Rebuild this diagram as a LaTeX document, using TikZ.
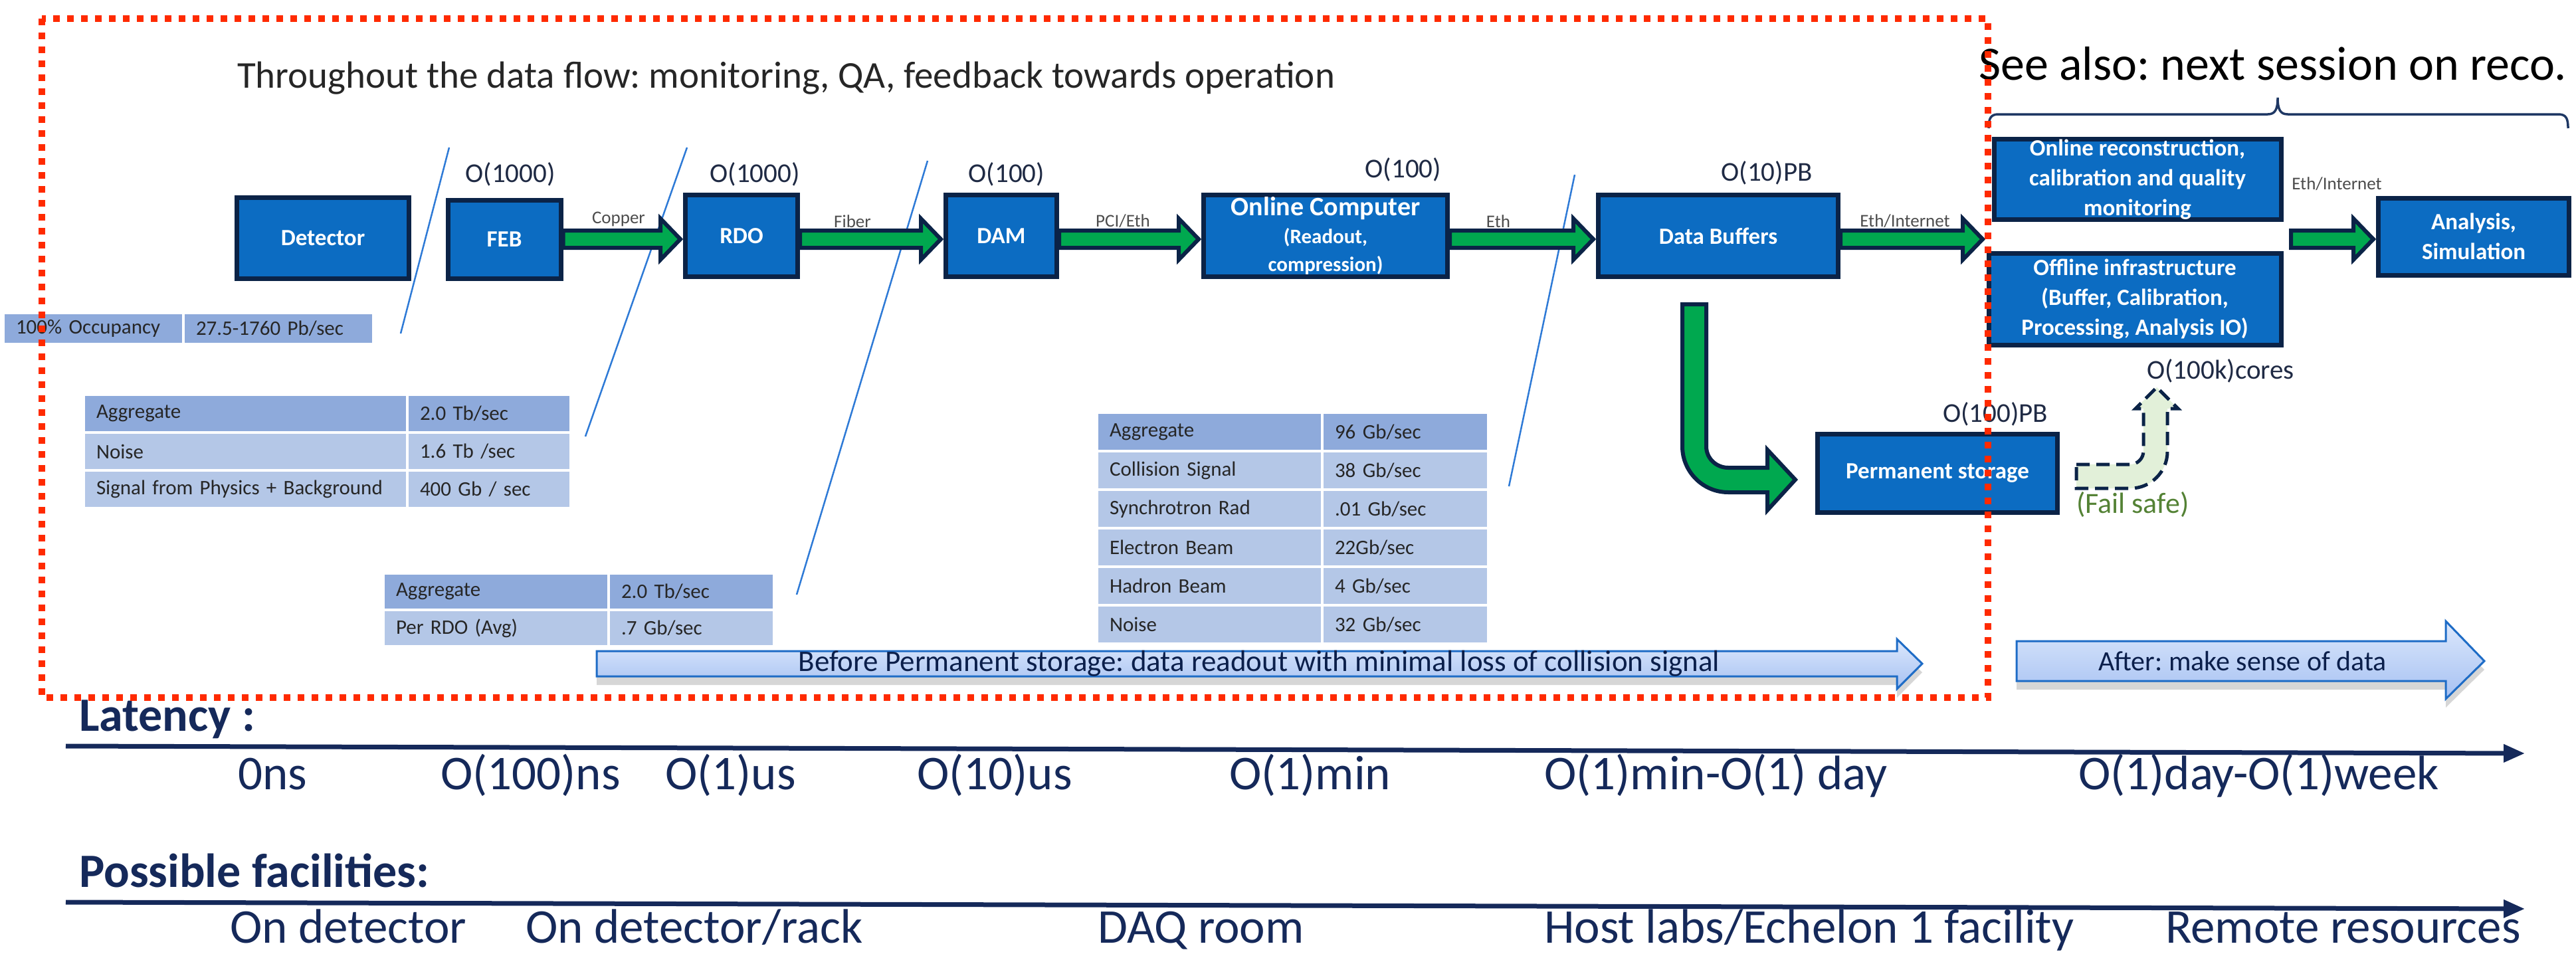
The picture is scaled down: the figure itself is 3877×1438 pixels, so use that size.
\documentclass[tikz,border=0pt]{standalone}
\usepackage{fontspec}
\setmainfont{Carlito}
\usetikzlibrary{calc,arrows.meta}
\frenchspacing

\definecolor{boxblue}{HTML}{0C6CC2}
\definecolor{navy}{HTML}{0B2347}
\definecolor{flowgreen}{HTML}{00A84F}
\definecolor{hdr}{HTML}{8EAADB}
\definecolor{rowc}{HTML}{B4C7E7}
\definecolor{cutline}{HTML}{2E7AD6}
\definecolor{framered}{HTML}{FF2A00}
\definecolor{ink}{HTML}{15295A}
\definecolor{qtyink}{HTML}{1F2A44}
\definecolor{safefill}{HTML}{E2F0D9}
\definecolor{safetext}{HTML}{548235}
\definecolor{bandtop}{HTML}{DCE8FC}
\definecolor{bandbot}{HTML}{A6C1F2}
\definecolor{bandline}{HTML}{1E6CC6}
\definecolor{bandink}{HTML}{0B1F4B}
\definecolor{bracec}{HTML}{1F3864}

\newcommand\fsz[2]{\fontsize{#1}{#2}\selectfont}

% table cell: name, x, y (top left), width, height, fill, text width, text
\newcommand\tcell[8]{\node[cell, fill=#6, minimum width=#4, minimum height=#5, text width=#7] (#1) at (#2,#3) {#8};}

% green block arrow from one point to another at a fixed height
\newcommand\flowarrow[3]{%
  \draw[flow] let \p1=(#1), \p2=(#2) in
    (\x1,{-#3pt+13pt}) -- ({\x2-34pt},{-#3pt+13pt}) -- ({\x2-34pt},{-#3pt+31pt})
    -- ({\x2-4pt},{-#3pt}) -- ({\x2-34pt},{-#3pt-31pt}) -- ({\x2-34pt},{-#3pt-13pt})
    -- (\x1,{-#3pt-13pt}) -- cycle;}

\tikzset{
  box/.style={draw=navy, line width=7, fill=boxblue, text=white, align=center,
    inner sep=0, font={\fsz{35}{45}\bfseries}},
  flow/.style={draw=navy, line width=6, fill=flowgreen, line join=miter},
  qty/.style={text=qtyink, font={\fsz{41}{49}}, inner sep=0},
  medium/.style={text=black!70, font={\fsz{27}{32}}, inner sep=0},
  cell/.style={draw=white, line width=4, anchor=north west, inner xsep=19,
    inner ysep=0, align=left, text=black!85, font={\fsz{31}{37}}},
  cut/.style={draw=cutline, line width=2.5},
  brace/.style={draw=bracec, line width=3.5},
  band/.style={draw=bandline, line width=3, top color=bandtop, bottom color=bandbot,
    preaction={fill=black, opacity=0.16, transform canvas={yshift=-13pt}}},
  bandtext/.style={text=bandink, inner sep=0},
  safe/.style={draw=navy, line width=5, dash pattern=on 20pt off 10pt, fill=safefill},
  timeline/.style={draw=ink, line width=7, -{Triangle[length=32pt,width=26pt]}},
  tlabel/.style={anchor=base west, inner sep=0, text=ink, font={\fsz{73}{88}}},
  ttitle/.style={anchor=base west, inner sep=0, text=ink, font={\fsz{72}{86}\bfseries}},
  frame/.style={draw=framered, line width=10, dash pattern=on 10pt off 11pt}
}

\begin{document}
\begin{tikzpicture}[x=1pt,y=-1pt]
\useasboundingbox (0,0) rectangle (3877,1438);

% headings
\node[anchor=base west, inner sep=0, font={\fsz{57}{68}}, text=black!85] (motto)
  at (357,132) {Throughout the data flow: monitoring, QA, feedback towards operation};
\node[anchor=base west, inner sep=0, font={\fsz{72}{86}}, text=black] (seealso)
  at (2978,120) {See also: next session on reco.};

% brace over the later stages
\draw[brace] (2993,193) .. controls (2993,178) and (2996,172) .. (3008,172)
  -- (3413,172) .. controls (3424,172) and (3428,165) .. (3428,147)
  .. controls (3428,165) and (3432,172) .. (3443,172)
  -- (3850,172) .. controls (3862,172) and (3865,178) .. (3865,193);

% stage separators
\coordinate (s1a) at (676,222);  \coordinate (s1b) at (603,502);
\coordinate (s2a) at (1034,222); \coordinate (s2b) at (881,657);
\coordinate (s3a) at (1396,242); \coordinate (s3b) at (1199,895);
\coordinate (s4a) at (2370,263); \coordinate (s4b) at (2271,732);
\draw[cut] (s1a) -- (s1b);
\draw[cut] (s2a) -- (s2b);
\draw[cut] (s3a) -- (s3b);
\draw[cut] (s4a) -- (s4b);

% processing stages
\node[box, minimum width=259, minimum height=122] (det) at (486,358) {Detector};
\node[box, minimum width=170, minimum height=118] (feb) at (759,360) {FEB};
\node[box, minimum width=169, minimum height=123] (rdo) at (1116,355) {RDO};
\node[box, minimum width=167, minimum height=123] (dam) at (1507,355) {DAM};
\node[box, minimum width=367, minimum height=123, font={\fsz{31}{42}\bfseries}] (oc) at (1995,355)
  {{\fsz{40}{46}\bfseries Online Computer}\\{\fsz{31}{38}\bfseries(Readout,}\\{\fsz{31}{38}\bfseries compression)}};
\node[box, minimum width=361, minimum height=123] (db) at (2586,355) {Data Buffers};
\node[box, minimum width=432, minimum height=117] (reco) at (3217,270)
  {Online reconstruction,\\calibration and quality\\monitoring};
\node[box, minimum width=440, minimum height=138] (offl) at (3213,450)
  {Offline infrastructure\\(Buffer, Calibration,\\Processing, Analysis IO)};
\node[box, minimum width=287, minimum height=116] (ana) at (3723,356) {Analysis,\\Simulation};
\node[box, minimum width=361, minimum height=118] (perm) at (2916,712) {Permanent storage};

% multiplicities and capacities
\node[qty] (qfeb) at (768,262) {O(1000)};
\node[qty] (qrdo) at (1136,262) {O(1000)};
\node[qty] (qdam) at (1515,262) {O(100)};
\node[qty] (qoc) at (2112,255) {O(100)};
\node[qty] (qdb) at (2659,260) {O(10)PB};
\node[qty] (qperm) at (3003,623) {O(100)PB};
\node[qty] (qoff) at (3342,558) {O(100k)cores};

% link media
\node[medium] (mcu) at (931,330) {Copper};
\node[medium] (mfi) at (1283,333) {Fiber};
\node[medium] (mpci) at (1690,333) {PCI/Eth};
\node[medium] (meth) at (2255,333) {Eth};
\node[medium] (mnet1) at (2867,333) {Eth/Internet};
\node[medium] (mnet2) at (3517,277) {Eth/Internet};

% data flow
\coordinate (split) at (2988,360);
\coordinate (join) at (3448,360);
\flowarrow{feb.east}{rdo.west}{360}
\flowarrow{rdo.east}{dam.west}{360}
\flowarrow{dam.east}{oc.west}{360}
\flowarrow{oc.east}{db.west}{360}
\flowarrow{db.east}{split}{360}
\flowarrow{join}{ana.west}{360}

% buffers down to permanent storage
\draw[flow] (2532,458) -- (2532,672) .. controls (2532,710) and (2563,741) .. (2601,741)
  -- (2660,741) -- (2660,768) -- (2702,722) -- (2660,677) -- (2660,704) -- (2601,704)
  .. controls (2583,704) and (2568,690) .. (2568,672) -- (2568,458) -- cycle;

% fail-safe path
\node[anchor=base west, inner sep=0, font={\fsz{44}{52}}, text=safetext] (failsafe)
  at (3125,772) {(Fail safe)};
\draw[safe] (3125,699) -- (3206,699) .. controls (3217,699) and (3226,690) .. (3226,679)
  -- (3226,615) -- (3214,615) -- (3246,583) -- (3278,615) -- (3262,615) -- (3262,680)
  .. controls (3262,710) and (3237,735) .. (3207,735) -- (3125,735) -- cycle;

% rates
\tcell{occ1}{3}{469}{271}{47}{hdr}{233}{100\% Occupancy}
\tcell{occ2}{274}{469}{286}{47}{hdr}{248}{27.5-1760 Pb/sec}

\tcell{fa1}{124}{592}{487}{57}{hdr}{449}{Aggregate}
\tcell{fb1}{611}{592}{246}{57}{hdr}{208}{2.0 Tb/sec}
\tcell{fa2}{124}{649}{487}{57}{rowc}{449}{Noise}
\tcell{fb2}{611}{649}{246}{57}{rowc}{208}{1.6 Tb /sec}
\tcell{fa3}{124}{706}{487}{57}{rowc}{449}{Signal from Physics + Background}
\tcell{fb3}{611}{706}{246}{57}{rowc}{208}{400 Gb / sec}

\tcell{ra1}{575}{861}{339}{55}{hdr}{301}{Aggregate}
\tcell{rb1}{914}{861}{249}{55}{hdr}{211}{2.0 Tb/sec}
\tcell{ra2}{575}{916}{339}{55}{rowc}{301}{Per RDO (Avg)}
\tcell{rb2}{914}{916}{249}{55}{rowc}{211}{.7 Gb/sec}

\tcell{da1}{1649}{619}{339}{58}{hdr}{301}{Aggregate}
\tcell{db1}{1988}{619}{250}{58}{hdr}{212}{96 Gb/sec}
\tcell{da2}{1649}{677}{339}{58}{rowc}{301}{Collision Signal}
\tcell{db2}{1988}{677}{250}{58}{rowc}{212}{38 Gb/sec}
\tcell{da3}{1649}{735}{339}{58}{rowc}{301}{Synchrotron Rad}
\tcell{db3}{1988}{735}{250}{58}{rowc}{212}{.01 Gb/sec}
\tcell{da4}{1649}{793}{339}{58}{rowc}{301}{Electron Beam}
\tcell{db4}{1988}{793}{250}{58}{rowc}{212}{22Gb/sec}
\tcell{da5}{1649}{851}{339}{58}{rowc}{301}{Hadron Beam}
\tcell{db5}{1988}{851}{250}{58}{rowc}{212}{4 Gb/sec}
\tcell{da6}{1649}{909}{339}{58}{rowc}{301}{Noise}
\tcell{db6}{1988}{909}{250}{58}{rowc}{212}{32 Gb/sec}

% before / after bands
\draw[band] (898,980) -- (2855,980) -- (2855,962) -- (2893,999) -- (2855,1037)
  -- (2855,1018) -- (898,1018) -- cycle;
\node[bandtext, font={\fsz{45}{54}}] (before) at (1895,999)
  {Before Permanent storage: data readout with minimal loss of collision signal};
\draw[band] (3035,965) -- (3681,965) -- (3681,935) -- (3739,995) -- (3681,1052)
  -- (3681,1025) -- (3035,1025) -- cycle;
\node[bandtext, font={\fsz{42}{50}}] (after) at (3375,995) {After: make sense of data};

% latency scale
\node[ttitle] (lat) at (119,1100) {Latency :};
\coordinate (lat0) at (99,1123);
\coordinate (lat1) at (3800,1134);
\draw[timeline] (lat0) -- (lat1);
\node[tlabel] (t1) at (358,1188) {0ns};
\node[tlabel] (t2) at (663,1188) {O(100)ns};
\node[tlabel] (t3) at (1001,1188) {O(1)us};
\node[tlabel] (t4) at (1380,1188) {O(10)us};
\node[tlabel] (t5) at (1850,1188) {O(1)min};
\node[tlabel] (t6) at (2324,1188) {O(1)min-O(1) day};
\node[tlabel] (t7) at (3128,1188) {O(1)day-O(1)week};

% facilities scale
\node[ttitle] (fac) at (119,1335) {Possible facilities:};
\coordinate (fac0) at (99,1358);
\coordinate (fac1) at (3800,1368);
\draw[timeline] (fac0) -- (fac1);
\node[tlabel] (f1) at (346,1419) {On detector};
\node[tlabel] (f2) at (791,1419) {On detector/rack};
\node[tlabel] (f3) at (1652,1419) {DAQ room};
\node[tlabel] (f4) at (2324,1419) {Host labs/Echelon 1 facility};
\node[tlabel] (f5) at (3259,1419) {Remote resources};

% readout domain outline
\draw[frame] (63,28) rectangle (2992,1050);
\end{tikzpicture}
\end{document}
